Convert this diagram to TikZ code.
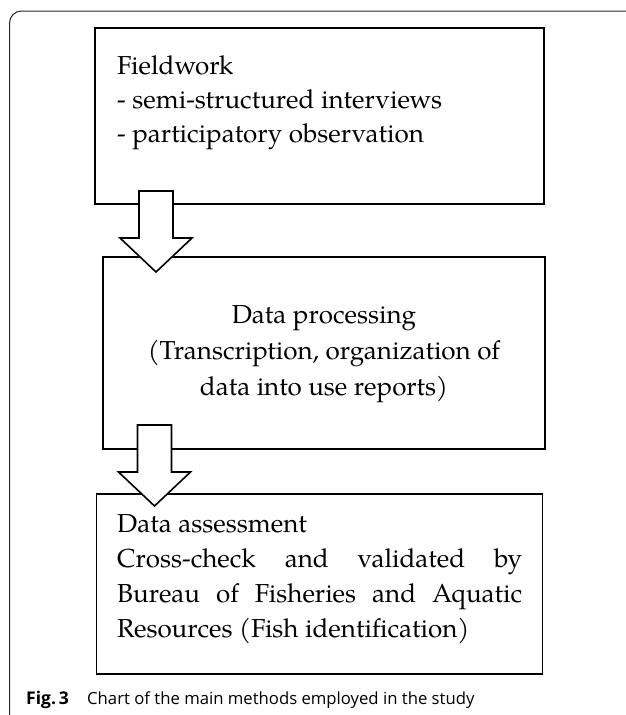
\documentclass[tikz,border=0pt]{standalone}
\usepackage{fontspec}
\newfontfamily\pal{texgyrepagella-regular.otf}
\newfontfamily\capfont{Open Sans}
\newfontfamily\capbold{Open Sans Bold}
\usetikzlibrary{calc}
\tikzset{
  frame/.style={draw=black!85, line width=1pt},
  box/.style={draw=black, line width=1.8pt, inner sep=0pt, outer sep=0pt},
  blockarrow/.style={draw=black, line width=1.6pt, fill=white, line join=miter},
  txt/.style={font=\pal\fontsize{26}{31}\selectfont, inner sep=0pt, anchor=base west},
  ctxt/.style={txt, anchor=base},
  captxt/.style={font=\capfont\fontsize{16.7}{19}\selectfont, inner sep=0pt, anchor=base west},
}
\newcommand\blkarrow[2]{%
  \draw[blockarrow] ($(#1)+(-17,0)$) -- ($(#2)+(-17,-34)$) -- ($(#2)+(-36,-34)$)
    -- (#2) -- ($(#2)+(36,-34)$) -- ($(#2)+(17,-34)$) -- ($(#1)+(17,0)$) -- cycle;}
\begin{document}
\begin{tikzpicture}[x=1pt,y=-1pt]
\useasboundingbox (0,0) rectangle (625,715);
\fill[white] (0,0) rectangle (625,715);
% outer frame
\draw[frame, rounded corners=12pt] (9.5,716) -- (9.5,11) -- (626,11);
% boxes
\node[box, minimum width=449pt, minimum height=176pt] (box1) at (319.5,116) {};
\node[box, minimum width=442pt, minimum height=192pt] (box2) at (324,353) {};
\node[box, minimum width=446pt, minimum height=180pt] (box3) at (319.5,584) {};
% arrows
\coordinate (a1tail) at (156,191);
\coordinate (a1tip) at (156,272);
\coordinate (a2tail) at (154.5,425);
\coordinate (a2tip) at (154.5,506);
\blkarrow{a1tail}{a1tip}
\blkarrow{a2tail}{a2tip}
% box 1 text
\node[txt] (t11) at (117,74) {Fieldwork};
\node[txt] (t12) at (117,108) {- semi-structured interviews};
\node[txt] (t13) at (117,142) {- participatory observation};
% box 2 text
\node[ctxt] (t21) at (324,323) {Data processing};
\node[ctxt] (t22) at (324,359) {(Transcription, organization of};
\node[ctxt] (t23) at (324,395) {data into use reports)};
% box 3 text
\node[txt] (t31) at (117,532) {Data assessment};
\node[txt] (t32) at (117,567) {\makebox[405pt][s]{Cross-check and validated by}};
\node[txt] (t33) at (117,602) {\makebox[405pt][s]{Bureau of Fisheries and Aquatic}};
\node[txt] (t34) at (117,637) {Resources (Fish identification)};
% caption
\node[captxt, font=\capbold\fontsize{17.5}{19}\selectfont] (capa) at (26,704) {Fig.\,3};
\node[captxt] (capb) at (87,704) {Chart of the main methods employed in the study};
\end{tikzpicture}
\end{document}
